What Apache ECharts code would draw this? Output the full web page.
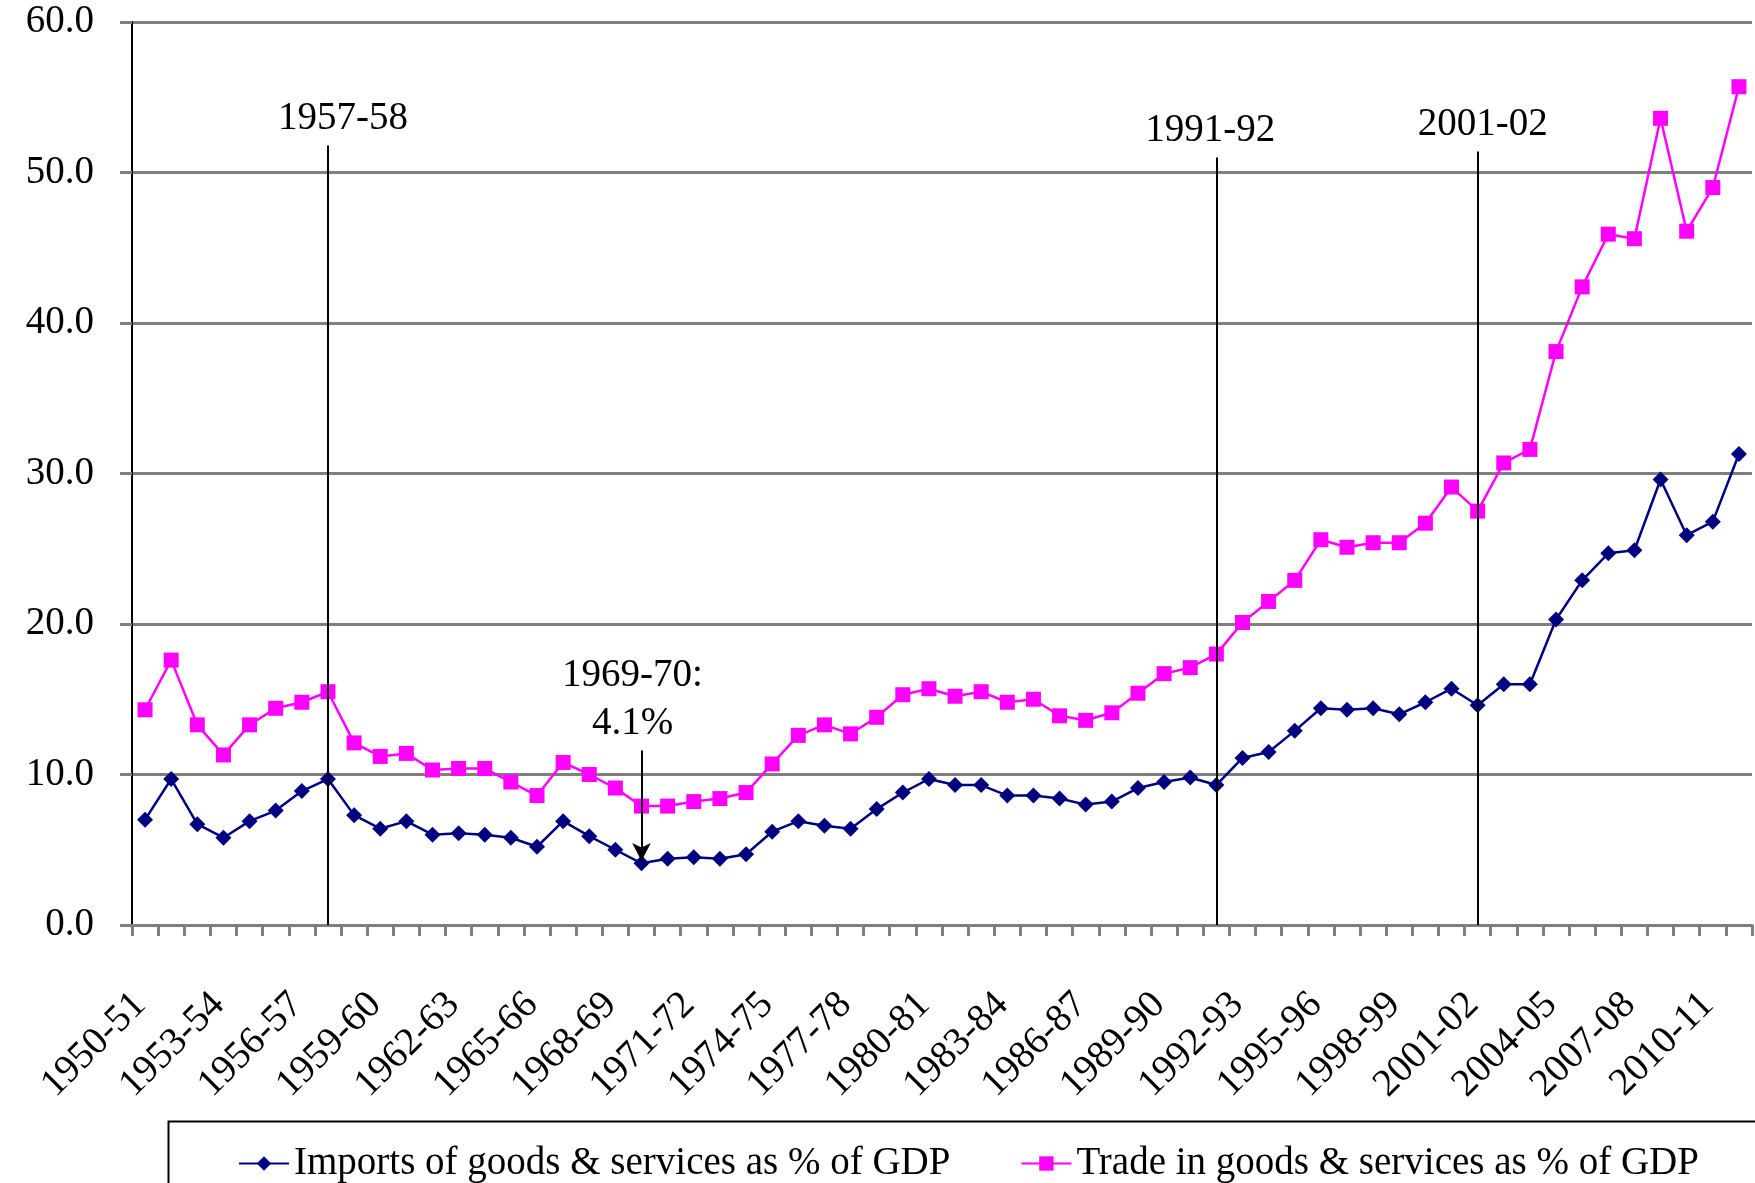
<!DOCTYPE html>
<html>
<head>
<meta charset="utf-8">
<title>Imports and trade as % of GDP</title>
<script src="https://cdn.jsdelivr.net/npm/echarts@6/dist/echarts.min.js"></script>
<style>
  html, body { margin: 0; padding: 0; background: #ffffff; }
  #chart { width: 1755px; height: 1183px; }
</style>
</head>
<body>
<div id="chart"></div>
<script>
// Financial years on the category axis
const categories = [
  '1950-51','1951-52','1952-53','1953-54','1954-55','1955-56','1956-57','1957-58','1958-59','1959-60',
  '1960-61','1961-62','1962-63','1963-64','1964-65','1965-66','1966-67','1967-68','1968-69','1969-70',
  '1970-71','1971-72','1972-73','1973-74','1974-75','1975-76','1976-77','1977-78','1978-79','1979-80',
  '1980-81','1981-82','1982-83','1983-84','1984-85','1985-86','1986-87','1987-88','1988-89','1989-90',
  '1990-91','1991-92','1992-93','1993-94','1994-95','1995-96','1996-97','1997-98','1998-99','1999-00',
  '2000-01','2001-02','2002-03','2003-04','2004-05','2005-06','2006-07','2007-08','2008-09','2009-10',
  '2010-11','2011-12'
];

// Imports of goods & services, % of GDP
const imports = [
  7.0, 9.7, 6.7, 5.8, 6.9, 7.6, 8.9, 9.7, 7.3, 6.4,
  6.9, 6.0, 6.1, 6.0, 5.8, 5.2, 6.9, 5.9, 5.0, 4.1,
  4.4, 4.5, 4.4, 4.7, 6.2, 6.9, 6.6, 6.4, 7.7, 8.8,
  9.7, 9.3, 9.3, 8.6, 8.6, 8.4, 8.0, 8.2, 9.1, 9.5,
  9.8, 9.3, 11.1, 11.5, 12.9, 14.4, 14.3, 14.4, 14.0, 14.8,
  15.7, 14.6, 16.0, 16.0, 20.3, 22.9, 24.7, 24.9, 29.6, 25.9,
  26.8, 31.3
];

// Trade (exports + imports) in goods & services, % of GDP
const trade = [
  14.3, 17.6, 13.3, 11.3, 13.3, 14.4, 14.8, 15.5, 12.1, 11.2,
  11.4, 10.3, 10.4, 10.4, 9.5, 8.6, 10.8, 10.0, 9.1, 7.9,
  7.9, 8.2, 8.4, 8.8, 10.7, 12.6, 13.3, 12.7, 13.8, 15.3,
  15.7, 15.2, 15.5, 14.8, 15.0, 13.9, 13.6, 14.1, 15.4, 16.7,
  17.1, 18.0, 20.1, 21.5, 22.9, 25.6, 25.1, 25.4, 25.4, 26.7,
  29.1, 27.5, 30.7, 31.6, 38.1, 42.4, 45.9, 45.6, 53.6, 46.1,
  49.0, 55.7
];

// Value axis ticks
const yTicks = [0, 10, 20, 30, 40, 50, 60];

// Policy-change years marked with vertical lines, and how high each line reaches
const eventYears = ['1957-58', '1991-92', '2001-02'];
const eventLineTop = [51.8, 51.0, 51.4];
// Horizontal nudge of each year caption relative to its line (px, + is right)
const eventLabelNudge = [15, -6, 5];

// Lowest import share, pointed at with an arrow
const lowYear = '1969-70';
const lowValue = 4.1;
const lowArrowFrom = 11.6;

const FONT = '"Liberation Serif", "Times New Roman", serif';
const FS = 39;

const eventLines = eventYears.map((yr, i) => {
  const n = eventLabelNudge[i];
  return [
    {
      coord: [yr, 0],
      symbol: 'none',
      label: {
        show: true,
        position: 'end',
        distance: 7,
        formatter: yr,
        color: '#000',
        fontFamily: FONT,
        fontSize: FS,
        padding: n >= 0 ? [0, 0, 0, 2 * n] : [0, -2 * n, 0, 0]
      }
    },
    { coord: [yr, eventLineTop[i]], symbol: 'none' }
  ];
});

const arrowLine = [
  {
    coord: [lowYear, lowArrowFrom],
    symbol: 'none',
    label: {
      show: true,
      position: 'start',
      distance: 3,
      formatter: lowYear + ':\n' + lowValue.toFixed(1) + '%',
      color: '#000',
      fontFamily: FONT,
      fontSize: FS,
      lineHeight: 48,
      align: 'center',
      padding: [0, 18, 0, 0]
    }
  },
  { coord: [lowYear, lowValue + 0.15], symbol: 'arrow', symbolSize: [14, 18] }
];

const chart = echarts.init(document.getElementById('chart'), null, { renderer: 'canvas' });

chart.setOption({
  animation: false,
  backgroundColor: '#ffffff',
  grid: { left: 132, right: 3, top: 22, bottom: 258, containLabel: false },
  xAxis: {
    type: 'category',
    data: categories,
    boundaryGap: true,
    axisLine: { show: true, lineStyle: { color: '#7f7f7f', width: 3 } },
    axisTick: { show: true, interval: 0, length: 11, lineStyle: { color: '#7f7f7f', width: 3 } },
    axisLabel: {
      interval: 2,
      rotate: 45,
      margin: 69,
      padding: [0, 7, 0, 0],
      color: '#000',
      fontFamily: FONT,
      fontSize: FS
    },
    splitLine: { show: false }
  },
  yAxis: {
    type: 'value',
    min: yTicks[0],
    max: yTicks[yTicks.length - 1],
    interval: yTicks[1] - yTicks[0],
    axisLine: { show: true, lineStyle: { color: '#000', width: 2 } },
    axisTick: { show: true, length: 12, lineStyle: { color: '#7f7f7f', width: 3 } },
    axisLabel: {
      margin: 38,
      color: '#000',
      fontFamily: FONT,
      fontSize: FS,
      padding: [14, 0, 0, 0],
      formatter: v => v.toFixed(1)
    },
    splitLine: { show: true, lineStyle: { color: '#7f7f7f', width: 3 } }
  },
  legend: {
    left: 233,
    top: 1139,
    itemGap: 70,
    itemWidth: 50,
    itemHeight: 18,
    textStyle: { color: '#000', fontFamily: FONT, fontSize: FS },
    data: ['Imports of goods & services as % of GDP', 'Trade in goods & services as % of GDP']
  },
  graphic: [
    {
      type: 'rect',
      left: 166,
      top: 1119,
      shape: { width: 1700, height: 90 },
      style: { fill: 'none', stroke: '#000', lineWidth: 2 },
      z: 0
    }
  ],
  series: [
    {
      name: 'Imports of goods & services as % of GDP',
      type: 'line',
      data: imports,
      symbol: 'diamond',
      symbolSize: 16,
      showAllSymbol: true,
      itemStyle: { color: '#000080' },
      lineStyle: { color: '#000080', width: 2.5 },
      z: 3,
      markLine: {
        silent: true,
        symbol: 'none',
        lineStyle: { color: '#000', width: 2, type: 'solid' },
        data: eventLines.concat([arrowLine]),
        z: 5
      }
    },
    {
      name: 'Trade in goods & services as % of GDP',
      type: 'line',
      data: trade,
      symbol: 'rect',
      symbolSize: 15,
      showAllSymbol: true,
      itemStyle: { color: '#ff00ff' },
      lineStyle: { color: '#ff00ff', width: 2.5 },
      z: 4
    }
  ]
});
</script>
</body>
</html>
